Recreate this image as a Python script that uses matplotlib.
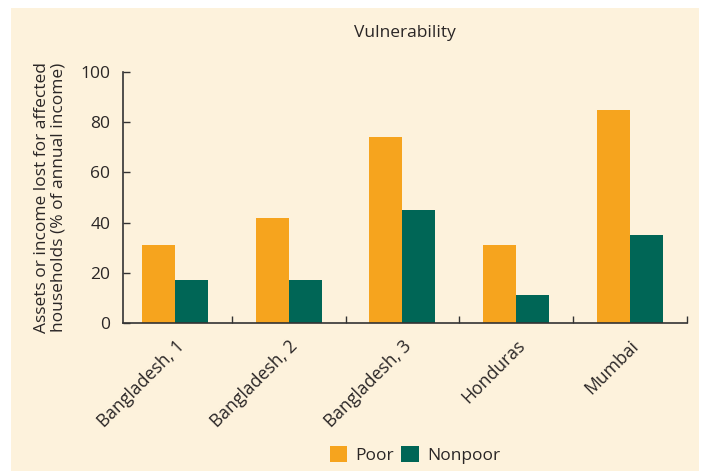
import matplotlib
matplotlib.use("Agg")
import matplotlib.pyplot as plt
from matplotlib.patches import Rectangle, Patch
from matplotlib.transforms import ScaledTranslation
import numpy as np

categories = ["Bangladesh, 1", "Bangladesh, 2", "Bangladesh, 3", "Honduras", "Mumbai"]
poor = [31, 42, 74, 31, 85]
nonpoor = [17, 17, 45, 11, 35]
series_names = ["Poor", "Nonpoor"]
yticks = [0, 20, 40, 60, 80, 100]

ORANGE = "#F6A41E"
GREEN = "#006656"
BG = "#FDF2DC"
TXT = "#2A2626"

plt.rcParams['font.family'] = ['Open Sans', 'DejaVu Sans']

fig = plt.figure(figsize=(7.03, 4.71), dpi=100, facecolor="white")
fig.patches.append(Rectangle((11/703, 0), (699-11)/703, (471-8)/471,
                             transform=fig.transFigure, facecolor=BG,
                             edgecolor="none", zorder=-10))

ax = fig.add_axes([122.7/703, 1-323/471, (686.7-122.7)/703, (323-72)/471])
ax.set_facecolor("none")

x = np.arange(len(categories))
w = 0.29
ax.bar(x - w/2, poor, width=w, color=ORANGE, label=series_names[0])
ax.bar(x + w/2, nonpoor, width=w, color=GREEN, label=series_names[1])

ax.set_xlim(-0.46, len(categories) - 0.5)
ax.set_ylim(0, 100)
ax.set_yticks(yticks)
ax.set_yticklabels([str(v) for v in yticks], fontsize=12.5, color=TXT)

ax.set_xticks(x)
labels = ax.set_xticklabels(categories, rotation=45, ha="right", va="top",
                            rotation_mode="anchor", fontsize=12.7, color=TXT)
off = ScaledTranslation(11/100, 2/100, fig.dpi_scale_trans)
for lab in labels:
    lab.set_transform(lab.get_transform() + off)
ax.set_xticks(np.arange(len(categories)) + 0.5, minor=True)
ax.tick_params(axis="x", which="major", length=0, pad=10)
ax.tick_params(axis="x", which="minor", direction="in", length=5, width=1, color="#333333")
ax.tick_params(axis="y", which="major", direction="in", length=5, width=1, color="#333333", pad=9)

for s in ["top", "right"]:
    ax.spines[s].set_visible(False)
for s in ["left", "bottom"]:
    ax.spines[s].set_color("#333333")
    ax.spines[s].set_linewidth(1.2)

ax.set_ylabel("Assets or income lost for affected\nhouseholds (% of annual income)",
              fontsize=12.5, color=TXT, linespacing=1.05, labelpad=10)

fig.text(405/703, 1-33/471, "Vulnerability", ha="center", va="center",
         fontsize=12.5, color=TXT)

handles = [Patch(facecolor=ORANGE, edgecolor="none"), Patch(facecolor=GREEN, edgecolor="none")]
fig.legend(handles, series_names, loc="center", bbox_to_anchor=(415/703, 1-455/471),
           ncol=2, frameon=False, fontsize=12.5, handlelength=1.0, handleheight=1.0,
           handletextpad=0.5, columnspacing=0.4, labelcolor=TXT)

fig.savefig("out.png", dpi=100, facecolor=fig.get_facecolor())
